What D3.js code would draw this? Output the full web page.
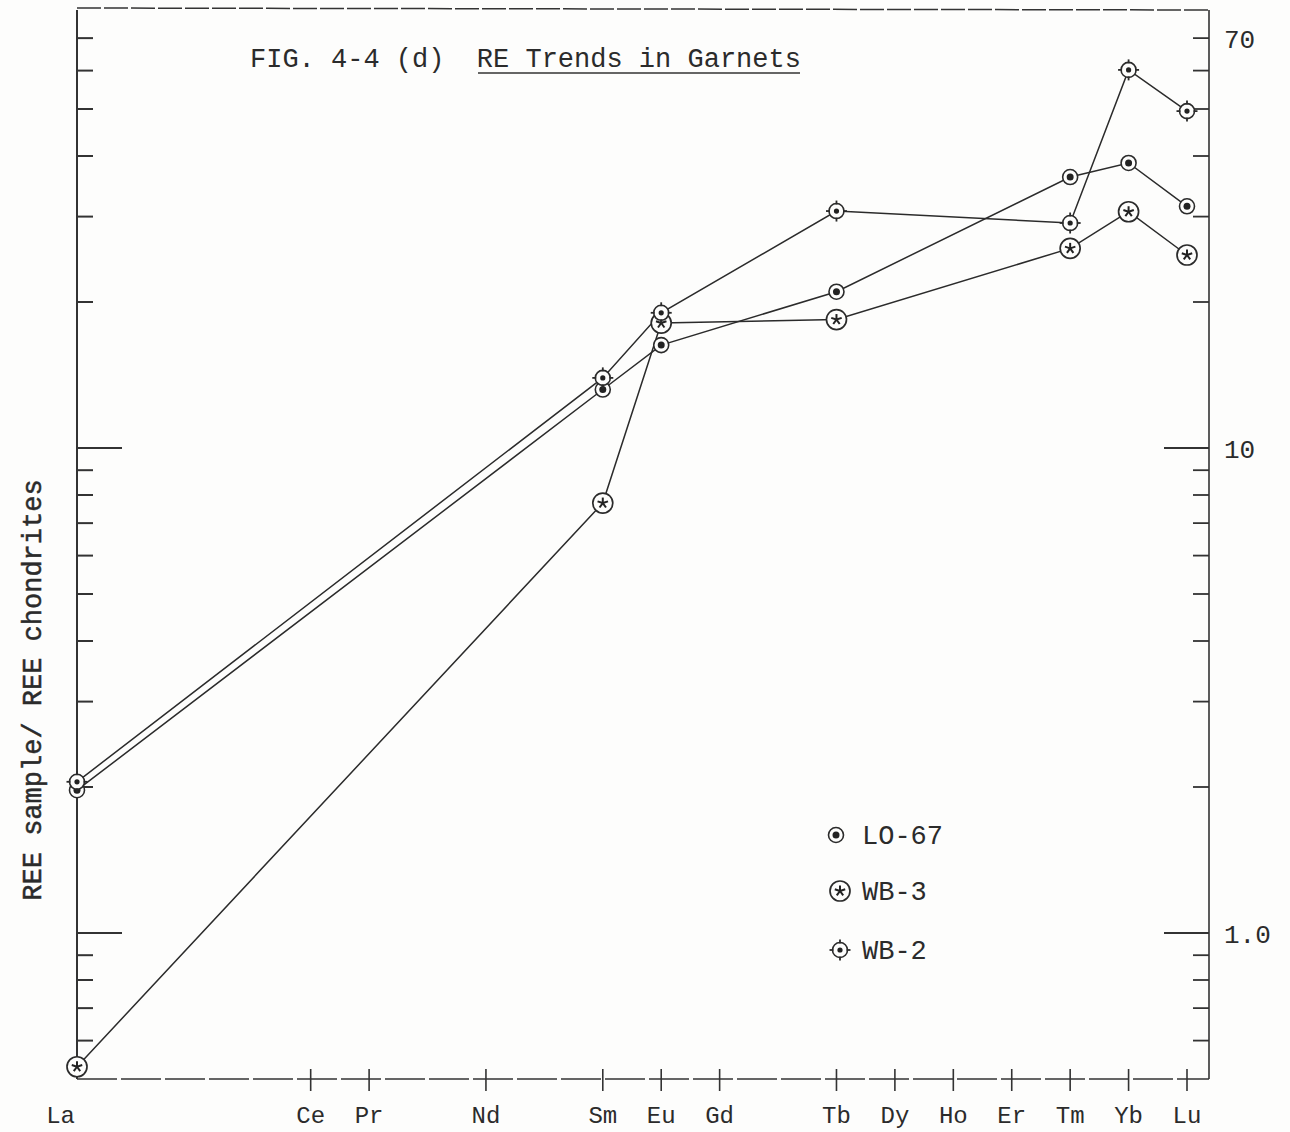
<!DOCTYPE html>
<html>
<head>
<meta charset="utf-8">
<script src="https://cdn.jsdelivr.net/npm/d3@7"></script>
<style>
  body { margin: 0; background: #fdfdfc; }
  svg text { font-family: "Liberation Mono", "Courier New", monospace; fill: #2b2b2b; }
  .axis line, .axis path { stroke: #333; }
</style>
</head>
<body>
<svg id="chart" width="1290" height="1132"></svg>
<script>
// elements along the x axis, and their position in axis units
var elements = ["La", "Ce", "Pr", "Nd", "Sm", "Eu", "Gd", "Tb", "Dy", "Ho", "Er", "Tm", "Yb", "Lu"];
var elementPos = [0, 4, 5, 7, 9, 10, 11, 13, 14, 15, 16, 17, 18, 19];

// elements that were measured
var measured = ["La", "Sm", "Eu", "Tb", "Tm", "Yb", "Lu"];

// chondrite normalised values
var lo67 = [1.97, 13.2, 16.3, 21.0, 36.2, 38.7, 31.5];
var wb3 = [0.53, 7.7, 18.1, 18.4, 25.8, 30.7, 25.0];
var wb2 = [2.05, 13.95, 19.0, 30.8, 29.1, 60.2, 49.5];

var seriesNames = ["LO-67", "WB-3", "WB-2"];

// y axis ticks
var yTicks = [0.6, 0.7, 0.8, 0.9, 1, 2, 3, 4, 5, 6, 7, 8, 9, 10, 20, 30, 40, 50, 60, 70];
var yMajor = [1, 10];
var yLabels = [70, 10, 1];

var svg = d3.select("#chart");

var x = d3.scaleLinear().domain([0, 19]).range([77, 1187]);
var y = d3.scaleLog().domain([0.5, 80]).range([1079, 10]);
var xLeft = 77, xRight = 1209;

var posOf = {};
elements.forEach(function(e, i) { posOf[e] = elementPos[i]; });

// frame
var frame = svg.append("g").attr("class", "axis");
frame.append("line")
    .attr("x1", xLeft).attr("x2", xLeft)
    .attr("y1", y(80)).attr("y2", y(0.5))
    .style("stroke-width", 2);
frame.append("line")
    .attr("x1", xRight).attr("x2", xRight)
    .attr("y1", y(80)).attr("y2", y(0.5))
    .style("stroke-width", 1.6);
frame.append("line")
    .attr("x1", xLeft).attr("x2", xRight)
    .attr("y1", y(80) - 2).attr("y2", y(80))
    .style("stroke-width", 1.5)
    .style("stroke-dasharray", "24,3");
frame.append("line")
    .attr("x1", xLeft).attr("x2", xRight)
    .attr("y1", y(0.5)).attr("y2", y(0.5))
    .style("stroke-width", 1.6)
    .style("stroke-dasharray", "40,4");

// y ticks, both sides pointing inward
frame.selectAll(".ltick")
    .data(yTicks)
    .enter().append("line")
    .attr("class", "ltick")
    .attr("x1", xLeft)
    .attr("x2", function(d) { return xLeft + (yMajor.indexOf(d) >= 0 ? 45 : 16); })
    .attr("y1", function(d) { return y(d); })
    .attr("y2", function(d) { return y(d); })
    .style("stroke-width", 2);

frame.selectAll(".rtick")
    .data(yTicks)
    .enter().append("line")
    .attr("class", "rtick")
    .attr("x1", xRight)
    .attr("x2", function(d) { return xRight - (yMajor.indexOf(d) >= 0 ? 45 : 16); })
    .attr("y1", function(d) { return y(d); })
    .attr("y2", function(d) { return y(d); })
    .style("stroke-width", 1.8);

svg.selectAll(".ylab")
    .data(yLabels)
    .enter().append("text")
    .attr("class", "ylab")
    .attr("x", 1224)
    .attr("y", function(d) { return y(d) + 2; })
    .attr("dy", ".32em")
    .style("font-size", "26px")
    .text(function(d) { return d === 1 ? "1.0" : d; });

// x ticks crossing the bottom line
frame.selectAll(".xtick")
    .data(elementPos.slice(1))
    .enter().append("line")
    .attr("class", "xtick")
    .attr("x1", function(d) { return x(d); })
    .attr("x2", function(d) { return x(d); })
    .attr("y1", y(0.5) - 10)
    .attr("y2", y(0.5) + 12)
    .style("stroke-width", 1.6);

svg.selectAll(".xlab")
    .data(elements)
    .enter().append("text")
    .attr("class", "xlab")
    .attr("x", function(d, i) { return i === 0 ? x(0) - 2 : x(elementPos[i]); })
    .attr("y", 1123)
    .attr("text-anchor", function(d, i) { return i === 0 ? "end" : "middle"; })
    .style("font-size", "24px")
    .text(function(d) { return d; });

// y axis title
svg.append("text")
    .attr("transform", "translate(41,690)rotate(-90)")
    .attr("text-anchor", "middle")
    .style("font-size", "27px")
    .style("stroke", "#2b2b2b")
    .style("stroke-width", 0.5)
    .text("REE sample/ REE chondrites");

// figure title
svg.append("text")
    .attr("x", 250)
    .attr("y", 67)
    .style("font-size", "27px")
    .attr("xml:space", "preserve")
    .text("FIG. 4-4 (d)  RE Trends in Garnets");
svg.append("line")
    .attr("x1", 478).attr("x2", 800)
    .attr("y1", 73).attr("y2", 73)
    .style("stroke", "#333")
    .style("stroke-width", 1.6);

// markers
function markLO(g) {
  g.append("circle").attr("r", 7.5).style("fill", "#fdfdfc").style("stroke", "#2b2b2b").style("stroke-width", 1.6);
  g.append("circle").attr("r", 3.5).style("fill", "#222");
}
function markWB3(g) {
  g.append("circle").attr("r", 10).style("fill", "#fdfdfc").style("stroke", "#2b2b2b").style("stroke-width", 1.7);
  d3.range(5).forEach(function(k) {
    var a = -Math.PI / 2 + k * 2 * Math.PI / 5;
    g.append("line")
        .attr("x1", 0).attr("y1", 0)
        .attr("x2", 5.5 * Math.cos(a)).attr("y2", 5.5 * Math.sin(a))
        .style("stroke", "#222").style("stroke-width", 2);
  });
}
function markWB2(g) {
  g.append("circle").attr("r", 7.5).style("fill", "#fdfdfc").style("stroke", "#2b2b2b").style("stroke-width", 1.6);
  [[0, -1], [0, 1], [-1, 0], [1, 0]].forEach(function(v) {
    g.append("line")
        .attr("x1", v[0] * 6.5).attr("y1", v[1] * 6.5)
        .attr("x2", v[0] * 10.5).attr("y2", v[1] * 10.5)
        .style("stroke", "#2b2b2b").style("stroke-width", 1.8);
  });
  g.append("circle").attr("r", 2.6).style("fill", "#222");
}

var series = [
  {name: seriesNames[0], values: lo67, mark: markLO},
  {name: seriesNames[1], values: wb3, mark: markWB3},
  {name: seriesNames[2], values: wb2, mark: markWB2}
];

var line = d3.line()
    .x(function(d) { return x(posOf[d.el]); })
    .y(function(d) { return y(d.v); });

series.forEach(function(s) {
  s.points = measured.map(function(el, i) { return {el: el, v: s.values[i]}; });
});

svg.selectAll(".trend")
    .data(series)
    .enter().append("path")
    .attr("class", "trend")
    .attr("d", function(s) { return line(s.points); })
    .style("fill", "none")
    .style("stroke", "#2b2b2b")
    .style("stroke-width", 1.5);

series.forEach(function(s) {
  s.points.forEach(function(p) {
    var g = svg.append("g")
        .attr("transform", "translate(" + x(posOf[p.el]) + "," + y(p.v) + ")");
    s.mark(g);
  });
});

// legend
var legendPos = [[836, 835], [840, 891], [840, 950]];
series.forEach(function(s, i) {
  var g = svg.append("g")
      .attr("transform", "translate(" + legendPos[i][0] + "," + legendPos[i][1] + ")");
  s.mark(g);
  svg.append("text")
      .attr("x", 862)
      .attr("y", legendPos[i][1])
      .attr("dy", ".35em")
      .style("font-size", "27px")
      .text(s.name);
});
</script>
</body>
</html>
